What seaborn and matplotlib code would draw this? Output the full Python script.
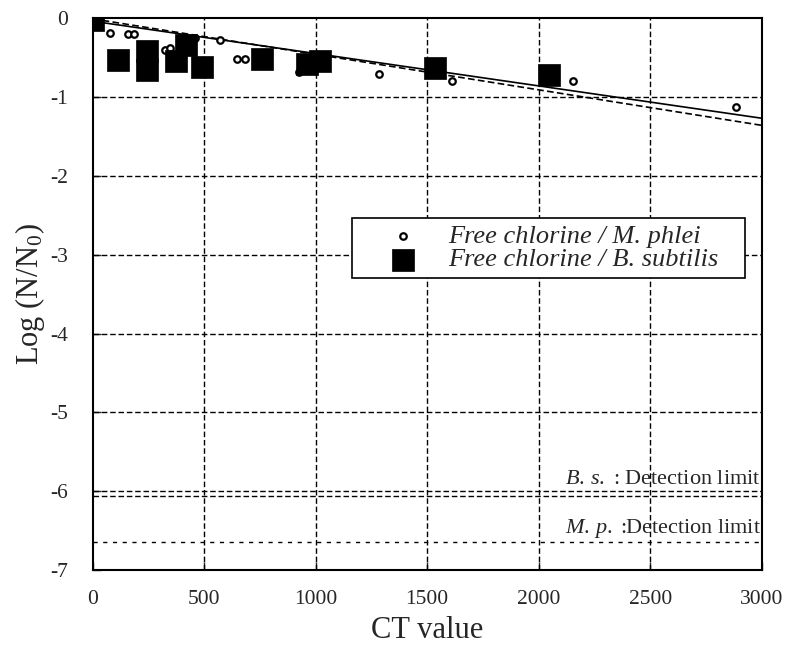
import pandas as pd
import matplotlib
matplotlib.use('Agg')
import matplotlib.pyplot as plt
import seaborn as sns

# M. phlei (open circles)
mp_ct = [0, 77, 158, 185, 325, 347, 459, 572, 649, 685, 923, 1284, 1612, 2153, 2883]
mp_log = [0.0, -0.19, -0.20, -0.20, -0.41, -0.38, -0.25, -0.28, -0.52, -0.52, -0.69, -0.71, -0.80, -0.80, -1.13]

# B. subtilis (filled squares)
bs_ct = [0, 113, 243, 243, 374, 419, 491, 761, 960, 1020, 1536, 2045]
bs_log = [-0.02, -0.53, -0.42, -0.66, -0.55, -0.34, -0.62, -0.52, -0.58, -0.55, -0.63, -0.72]

# regression lines (end points)
fit_ct = [0, 3000]
fit_mp = [-0.04, -1.27]
fit_bs = [-0.01, -1.36]

# detection limits
bs_limit = -6.06
mp_limit = -6.64

sns.set_style('white')
plt.rcParams['font.family'] = ['Liberation Serif', 'DejaVu Serif']
plt.rcParams['mathtext.fontset'] = 'custom'
plt.rcParams['mathtext.rm'] = 'Liberation Serif'
plt.rcParams['mathtext.it'] = 'Liberation Serif:italic'
plt.rcParams['axes.unicode_minus'] = False

mp = pd.DataFrame({'CT': mp_ct, 'logN': mp_log})
bs = pd.DataFrame({'CT': bs_ct, 'logN': bs_log})
fit = pd.DataFrame({'CT': fit_ct, 'mp': fit_mp, 'bs': fit_bs})

fig = plt.figure(figsize=(7.86, 6.45), dpi=100)
ax = fig.add_axes([0.118, 0.116, 0.851, 0.856])

# grid
for gx in range(500, 3000, 500):
    ax.axvline(gx, color='black', lw=1, ls=(0, (4, 2)), zorder=1)
for gy in range(-6, 0):
    ax.axhline(gy, color='black', lw=1, ls=(0, (4, 2)), zorder=1)

# detection limit lines
ax.axhline(bs_limit, color='black', lw=1, ls=(0, (4, 2)), zorder=1)
ax.axhline(mp_limit, color='black', lw=1, ls=(0, (3, 4)), zorder=1)

sns.lineplot(data=fit, x='CT', y='mp', color='black', lw=1.2, ax=ax, zorder=2)
sns.lineplot(data=fit, x='CT', y='bs', color='black', lw=1.2, ls=(0, (4, 2)), ax=ax, zorder=2)

sns.scatterplot(data=mp, x='CT', y='logN', marker='o', s=22, facecolor='white',
                edgecolor='black', linewidth=1.6, label='Free chlorine / M. phlei', ax=ax, zorder=3)
sns.scatterplot(data=bs, x='CT', y='logN', marker='s', s=230, color='black',
                edgecolor='black', linewidth=0.5, label='Free chlorine / B. subtilis', ax=ax, zorder=4)

ax.text(2995, -5.97, r'$\mathit{B.}\,\mathit{s.}$ : Detection limit', ha='right', va='bottom', fontsize=16)
ax.text(2995, -6.62, r'$\mathit{M.}\,\mathit{p.}$ :Detection limit', ha='right', va='bottom', fontsize=16)

ax.set_xlim(0, 3000)
ax.set_ylim(-7, 0)
ax.set_xticks(range(0, 3001, 500))
ax.set_yticks(range(-7, 1))
ax.tick_params(direction='in', length=6, width=1, labelsize=15.5,
               left=True, bottom=True)
ax.tick_params(axis='x', pad=14)
ax.tick_params(axis='y', pad=18)
ax.set_xlabel('CT value', fontsize=22, labelpad=5)
ax.set_ylabel('Log (N/N$_0$)', fontsize=22, labelpad=2)

for sp in ax.spines.values():
    sp.set_color('black')
    sp.set_linewidth(1.5)

leg = ax.legend(loc='upper right', bbox_to_anchor=(0.975, 0.638), borderaxespad=0,
                frameon=True, fancybox=False, edgecolor='black', framealpha=1,
                borderpad=0.25, handlelength=3.4, handletextpad=0.0, labelspacing=0.0,
                prop={'style': 'italic', 'size': 19})
leg.get_frame().set_linewidth(1.2)
for t in leg.get_texts():
    t.set_text(t.get_text() + '   ')

fig.savefig('out.png', dpi=100)
